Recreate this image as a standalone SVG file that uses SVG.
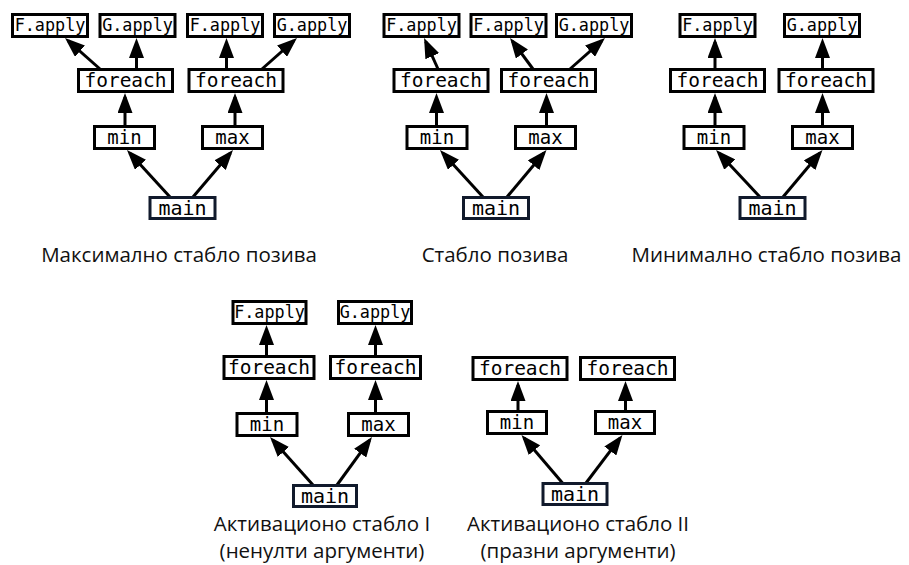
<svg xmlns="http://www.w3.org/2000/svg" width="909" height="565" viewBox="0 0 909 565">
  <style>
    .box { fill: #fff; stroke: #000; stroke-width: 3; }
    .root .box { stroke: #111a2c; }
    .lbl { font-family: 'DejaVu Sans Mono', 'Liberation Mono', monospace; text-anchor: middle; fill: #000; }
    .ap { font-size: 16.8px; }
    .fe { font-size: 19.5px; }
    .mm { font-size: 19px; }
    .mn { font-size: 20px; }
    .edge { stroke: #000; stroke-width: 3; fill: none; marker-end: url(#head); }
    .cap { font-family: 'Open Sans', 'Noto Sans', sans-serif; font-size: 20.5px; text-anchor: middle; fill: #111; }
  </style>
  <defs>
    <marker id="head" markerUnits="userSpaceOnUse" markerWidth="20" markerHeight="15" refX="16" refY="7.5" orient="auto">
      <path d="M0,0 L20,7.5 L0,15 Z" fill="#000"/>
    </marker>
  </defs>

  <!-- connectors -->
  <g id="connectors">
    <!-- maximal call tree -->
    <line class="edge" x1="170" y1="197" x2="129.7" y2="152.9"/>
    <line class="edge" x1="193" y1="197" x2="230.4" y2="153"/>
    <line class="edge" x1="125" y1="126" x2="125" y2="97"/>
    <line class="edge" x1="235" y1="126" x2="235" y2="97"/>
    <line class="edge" x1="100" y1="69" x2="68" y2="40.6"/>
    <line class="edge" x1="136.5" y1="69" x2="136.5" y2="42"/>
    <line class="edge" x1="226.5" y1="69" x2="226.5" y2="42"/>
    <line class="edge" x1="262" y1="69" x2="294" y2="40.6"/>
    <!-- call tree -->
    <line class="edge" x1="483" y1="197" x2="442.7" y2="152.9"/>
    <line class="edge" x1="507" y1="197" x2="543.9" y2="153"/>
    <line class="edge" x1="436.5" y1="126" x2="436.5" y2="97"/>
    <line class="edge" x1="546.5" y1="126" x2="546.5" y2="97"/>
    <line class="edge" x1="438" y1="69" x2="425.7" y2="41.6"/>
    <line class="edge" x1="533" y1="69" x2="512.4" y2="41.2"/>
    <line class="edge" x1="570" y1="69" x2="602" y2="40.6"/>
    <!-- minimal call tree -->
    <line class="edge" x1="760" y1="197" x2="718.8" y2="152.9"/>
    <line class="edge" x1="783" y1="197" x2="819.9" y2="153"/>
    <line class="edge" x1="715" y1="126" x2="715" y2="97"/>
    <line class="edge" x1="822.5" y1="126" x2="822.5" y2="97"/>
    <line class="edge" x1="715" y1="69" x2="715" y2="42"/>
    <line class="edge" x1="822.5" y1="69" x2="822.5" y2="42"/>
    <!-- activation tree I -->
    <line class="edge" x1="313" y1="485" x2="272.7" y2="440"/>
    <line class="edge" x1="337" y1="485" x2="369.6" y2="440.2"/>
    <line class="edge" x1="266.5" y1="413" x2="266.5" y2="384"/>
    <line class="edge" x1="375.5" y1="413" x2="375.5" y2="384"/>
    <line class="edge" x1="266.5" y1="356" x2="266.5" y2="329"/>
    <line class="edge" x1="375.5" y1="356" x2="375.5" y2="329"/>
    <!-- activation tree II -->
    <line class="edge" x1="562.5" y1="483" x2="524.1" y2="438"/>
    <line class="edge" x1="586" y1="483" x2="620" y2="438.2"/>
    <line class="edge" x1="518" y1="411" x2="518" y2="385"/>
    <line class="edge" x1="625.5" y1="411" x2="625.5" y2="385"/>
  </g>

  <!-- maximal call tree -->
  <g id="t1-f-apply-1"><rect class="box" x="12.5" y="14.5" width="75" height="22"/><text class="lbl ap" x="50" y="30.5">F.apply</text></g>
  <g id="t1-g-apply-1"><rect class="box" x="100" y="14.5" width="75" height="22"/><text class="lbl ap" x="137.5" y="30.5">G.apply</text></g>
  <g id="t1-f-apply-2"><rect class="box" x="187.5" y="14.5" width="75" height="22"/><text class="lbl ap" x="225" y="30.5">F.apply</text></g>
  <g id="t1-g-apply-2"><rect class="box" x="274.5" y="14.5" width="75" height="22"/><text class="lbl ap" x="312" y="30.5">G.apply</text></g>
  <g id="t1-foreach-1"><rect class="box" x="78.5" y="69.5" width="94" height="22"/><text class="lbl fe" x="125.5" y="86.5">foreach</text></g>
  <g id="t1-foreach-2"><rect class="box" x="189" y="69.5" width="94" height="22"/><text class="lbl fe" x="236" y="86.5">foreach</text></g>
  <g id="t1-min"><rect class="box" x="94.5" y="126.5" width="60" height="22"/><text class="lbl mm" x="124.5" y="143.5">min</text></g>
  <g id="t1-max"><rect class="box" x="202.5" y="126.5" width="60" height="22"/><text class="lbl mm" x="232.5" y="143.5">max</text></g>
  <g id="t1-main" class="root"><rect class="box" x="150" y="197.5" width="65" height="21"/><text class="lbl mn" x="182.5" y="214.5">main</text></g>

  <!-- call tree -->
  <g id="t2-f-apply-1"><rect class="box" x="384" y="14.5" width="75" height="22"/><text class="lbl ap" x="421.5" y="30.5">F.apply</text></g>
  <g id="t2-f-apply-2"><rect class="box" x="471" y="14.5" width="75" height="22"/><text class="lbl ap" x="508.5" y="30.5">F.apply</text></g>
  <g id="t2-g-apply"><rect class="box" x="556.5" y="14.5" width="75" height="22"/><text class="lbl ap" x="594" y="30.5">G.apply</text></g>
  <g id="t2-foreach-1"><rect class="box" x="394" y="69.5" width="94" height="22"/><text class="lbl fe" x="441" y="86.5">foreach</text></g>
  <g id="t2-foreach-2"><rect class="box" x="501.5" y="69.5" width="94" height="22"/><text class="lbl fe" x="548.5" y="86.5">foreach</text></g>
  <g id="t2-min"><rect class="box" x="407" y="126.5" width="60" height="22"/><text class="lbl mm" x="437" y="143.5">min</text></g>
  <g id="t2-max"><rect class="box" x="515.5" y="126.5" width="60" height="22"/><text class="lbl mm" x="545.5" y="143.5">max</text></g>
  <g id="t2-main" class="root"><rect class="box" x="463.5" y="197.5" width="65" height="21"/><text class="lbl mn" x="496" y="214.5">main</text></g>

  <!-- minimal call tree -->
  <g id="t3-f-apply"><rect class="box" x="680" y="14.5" width="75" height="22"/><text class="lbl ap" x="717.5" y="30.5">F.apply</text></g>
  <g id="t3-g-apply"><rect class="box" x="784.5" y="14.5" width="75" height="22"/><text class="lbl ap" x="822" y="30.5">G.apply</text></g>
  <g id="t3-foreach-1"><rect class="box" x="670.5" y="69.5" width="94" height="22"/><text class="lbl fe" x="717.5" y="86.5">foreach</text></g>
  <g id="t3-foreach-2"><rect class="box" x="779" y="69.5" width="94" height="22"/><text class="lbl fe" x="826" y="86.5">foreach</text></g>
  <g id="t3-min"><rect class="box" x="684" y="126.5" width="60" height="22"/><text class="lbl mm" x="714" y="143.5">min</text></g>
  <g id="t3-max"><rect class="box" x="792.5" y="126.5" width="60" height="22"/><text class="lbl mm" x="822.5" y="143.5">max</text></g>
  <g id="t3-main" class="root"><rect class="box" x="740" y="197.5" width="65" height="21"/><text class="lbl mn" x="772.5" y="214.5">main</text></g>

  <!-- activation tree I -->
  <g id="t4-f-apply"><rect class="box" x="233" y="301.5" width="73" height="22"/><text class="lbl ap" x="269.5" y="317.5">F.apply</text></g>
  <g id="t4-g-apply"><rect class="box" x="338.5" y="301.5" width="73" height="22"/><text class="lbl ap" x="375" y="317.5">G.apply</text></g>
  <g id="t4-foreach-1"><rect class="box" x="224" y="356.5" width="90" height="22"/><text class="lbl fe" x="269" y="373.5">foreach</text></g>
  <g id="t4-foreach-2"><rect class="box" x="330.5" y="356.5" width="90" height="22"/><text class="lbl fe" x="375.5" y="373.5">foreach</text></g>
  <g id="t4-min"><rect class="box" x="237" y="413.5" width="60" height="22"/><text class="lbl mm" x="267" y="430.5">min</text></g>
  <g id="t4-max"><rect class="box" x="348.5" y="413.5" width="60" height="22"/><text class="lbl mm" x="378.5" y="430.5">max</text></g>
  <g id="t4-main" class="root"><rect class="box" x="293.5" y="485.5" width="63" height="21"/><text class="lbl mn" x="325" y="502.5">main</text></g>

  <!-- activation tree II -->
  <g id="t5-foreach-1"><rect class="box" x="473" y="357.5" width="94" height="22"/><text class="lbl fe" x="520" y="374.5">foreach</text></g>
  <g id="t5-foreach-2"><rect class="box" x="580.5" y="357.5" width="94" height="22"/><text class="lbl fe" x="627.5" y="374.5">foreach</text></g>
  <g id="t5-min"><rect class="box" x="487.5" y="411.5" width="59" height="22"/><text class="lbl mm" x="517" y="428.5">min</text></g>
  <g id="t5-max"><rect class="box" x="595.5" y="411.5" width="59" height="22"/><text class="lbl mm" x="625" y="428.5">max</text></g>
  <g id="t5-main" class="root"><rect class="box" x="543" y="483.5" width="64" height="21"/><text class="lbl mn" x="575" y="500.5">main</text></g>

  <!-- captions -->
  <g id="captions">
    <text class="cap" x="179" y="262">Максимално стабло позива</text>
    <text class="cap" x="495" y="262">Стабло позива</text>
    <text class="cap" x="766.5" y="262">Минимално стабло позива</text>
    <text class="cap" x="322" y="531">Активационо стабло I</text>
    <text class="cap" x="322" y="558">(ненулти аргументи)</text>
    <text class="cap" x="578" y="531">Активационо стабло II</text>
    <text class="cap" x="578" y="558">(празни аргументи)</text>
  </g>
</svg>
